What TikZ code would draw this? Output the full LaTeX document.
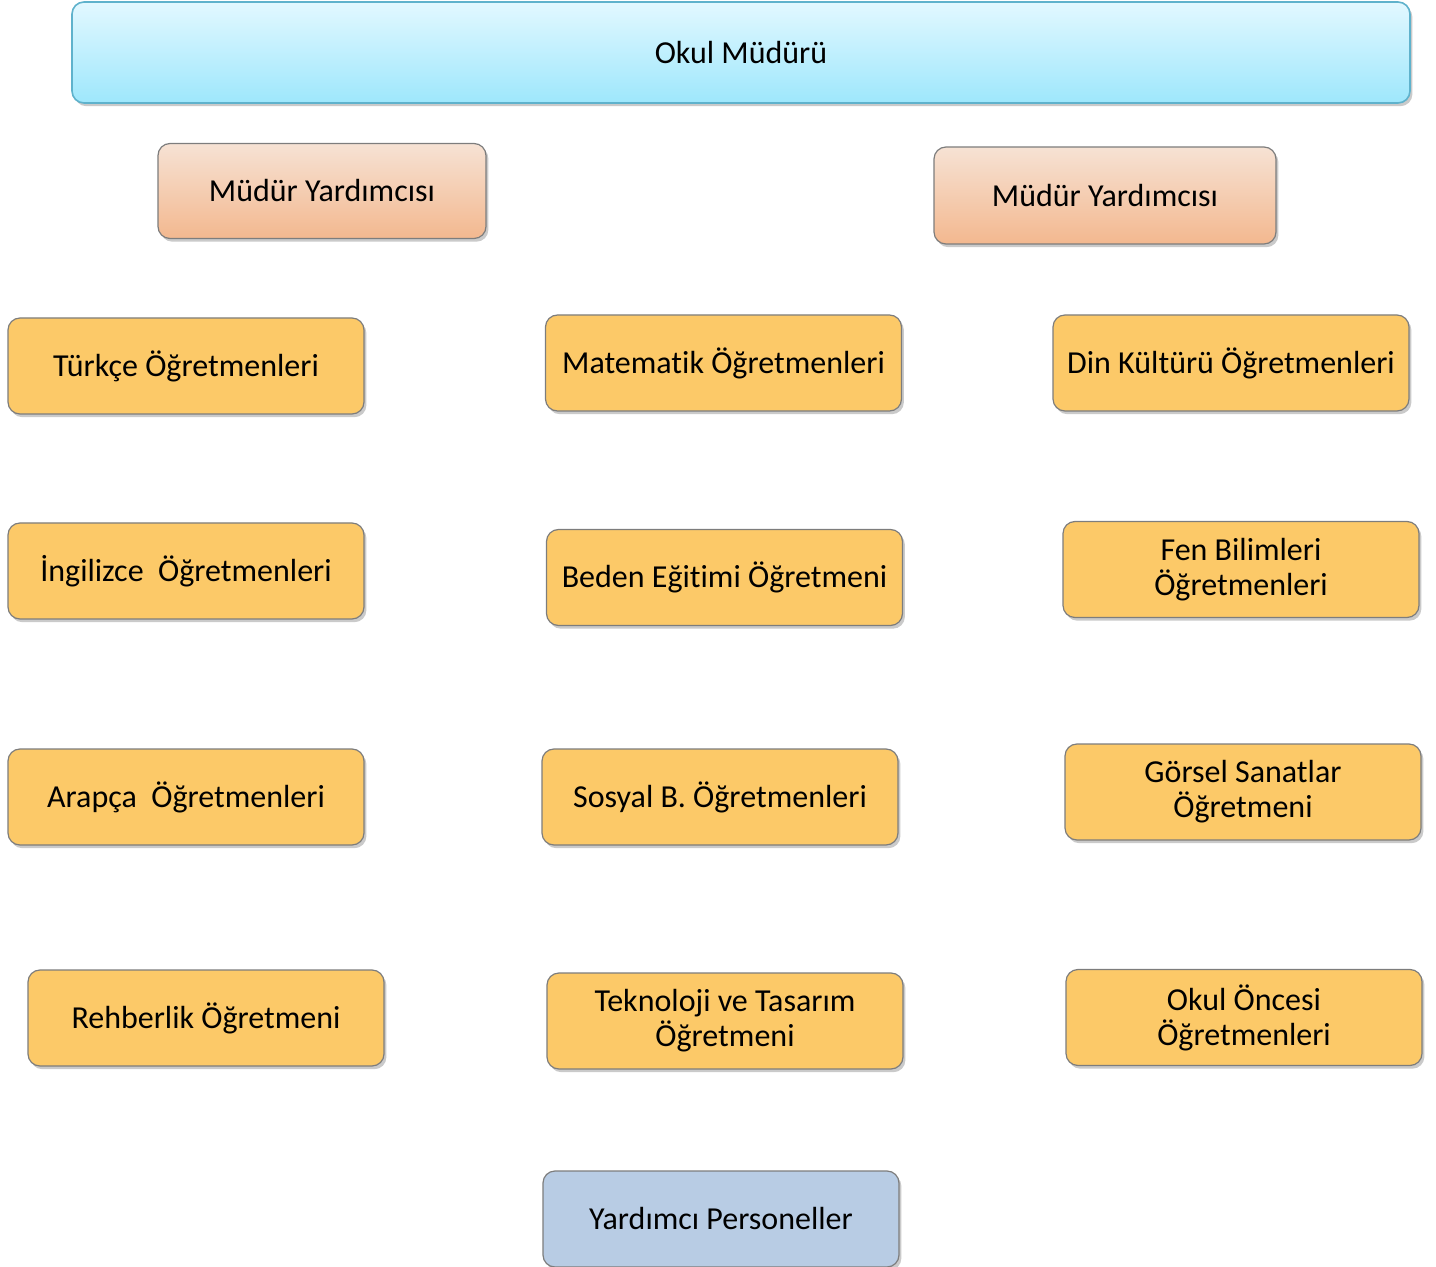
\documentclass[tikz,border=0pt]{standalone}
\usepackage{fontspec}
\setmainfont{Carlito}[Ligatures=NoCommon]
\usepackage{tikz}
\usetikzlibrary{shadows}

\definecolor{headtop}{RGB}{226,248,255}
\definecolor{headbot}{RGB}{158,231,252}
\definecolor{headline}{RGB}{95,178,204}
\definecolor{deptop}{RGB}{246,226,212}
\definecolor{depbot}{RGB}{243,184,143}
\definecolor{teachfill}{RGB}{252,201,104}
\definecolor{stafffill}{RGB}{184,204,228}
\definecolor{boxline}{RGB}{125,125,125}

\begin{document}
\begin{tikzpicture}[
    x=0.5pt, y=-0.5pt,
    every node/.style={font=\fontsize{16}{17.5}\selectfont, align=center, inner sep=0pt},
    card/.style={rectangle, rounded corners=6pt, draw=boxline, line width=0.6pt,
        drop shadow={shadow xshift=1.2pt, shadow yshift=-1.6pt, opacity=0.35, fill=black!60}},
    head/.style={card, draw=headline, line width=0.8pt, top color=headtop, bottom color=headbot,
        minimum width=669pt, minimum height=50.5pt},
    deputy/.style={card, top color=deptop, bottom color=depbot, minimum width=164pt, minimum height=47.5pt},
    teacher/.style={card, fill=teachfill, minimum width=178pt, minimum height=48pt},
    staff/.style={card, fill=stafffill, minimum width=178pt, minimum height=48pt}
]
    \useasboundingbox (0,0) rectangle (1436,1267);

    \node[head] (mudur) at (741,52.5) {Okul Müdürü};

    \node[deputy] (yard1) at (322,191) {Müdür Yardımcısı};
    \node[deputy, minimum width=171pt, minimum height=48.5pt] (yard2) at (1105,195.5) {Müdür Yardımcısı};

    % left column
    \node[teacher] (turkce) at (186,366) {Türkçe Öğretmenleri};
    \node[teacher] (ingilizce) at (186,571) {İngilizce\ \ Öğretmenleri};
    \node[teacher] (arapca) at (186,797) {Arapça\ \ Öğretmenleri};
    \node[teacher] (rehberlik) at (206,1018) {Rehberlik Öğretmeni};

    % middle column
    \node[teacher] (matematik) at (723.5,363) {Matematik Öğretmenleri};
    \node[teacher] (beden) at (724.5,577.5) {Beden Eğitimi Öğretmeni};
    \node[teacher] (sosyal) at (720,797) {Sosyal B. Öğretmenleri};
    \node[teacher] (teknoloji) at (725,1021) {Teknoloji ve Tasarım\\Öğretmeni};

    % right column
    \node[teacher] (din) at (1231,363) {Din Kültürü Öğretmenleri};
    \node[teacher] (fen) at (1241,569.5) {Fen Bilimleri\\Öğretmenleri};
    \node[teacher] (gorsel) at (1243,792) {Görsel Sanatlar\\Öğretmeni};
    \node[teacher] (oncesi) at (1244,1017.5) {Okul Öncesi\\Öğretmenleri};

    \node[staff] (personel) at (721,1219) {Yardımcı Personeller};
\end{tikzpicture}
\end{document}
